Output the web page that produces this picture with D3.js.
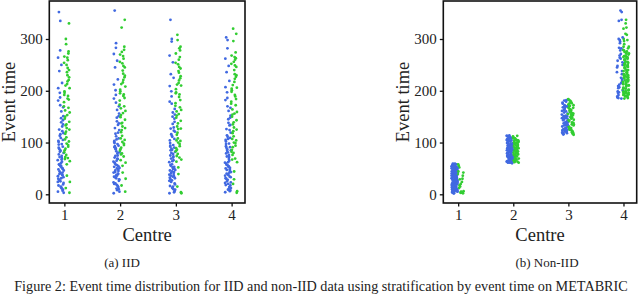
<!DOCTYPE html>
<html lang="en">
<head>
  <meta charset="utf-8">
  <title>Event time distribution</title>
  <script src="https://cdn.jsdelivr.net/npm/d3@7"></script>
  <style>
    body { margin: 0; background: #fff; }
    text { font-family: "Liberation Serif", "DejaVu Serif", serif; fill: #222; }
  </style>
</head>
<body>
<div id="chart"></div>
<script>
// centres (IID split, stratified by event time)
var centres = [1, 2, 3, 4];
var yTicks = [0, 100, 200, 300];

// event times, blue = event observed, green = censored
var eventC1 = [12, 88, 143, 41, 205, 63, 27, 118, 55, 96, 7, 172, 35, 74, 238, 19, 109, 48, 131, 82,
  3, 160, 58, 92, 25, 264, 70, 44, 151, 15, 101, 37, 187, 66, 52, 125, 9, 84, 30, 215,
  113, 22, 139, 77, 50, 335, 5, 97, 39, 168, 60, 17, 122, 86, 46, 250, 28, 105, 54, 181,
  11, 72, 33, 147, 90, 42, 278, 24, 67, 57, 135, 14, 103, 38, 196, 80, 31, 352, 49, 116];
var eventC2 = [8, 93, 151, 37, 212, 68, 21, 124, 50, 99, 14, 177, 42, 79, 245, 26, 106, 53, 134, 87,
  5, 163, 61, 94, 31, 271, 75, 46, 156, 18, 103, 39, 192, 63, 56, 128, 10, 83, 34, 222,
  117, 28, 141, 71, 45, 292, 2, 97, 43, 170, 65, 20, 119, 89, 51, 258, 33, 108, 57, 185,
  16, 74, 29, 148, 91, 48, 283, 23, 69, 59, 137, 11, 101, 40, 201, 81, 36, 355, 54, 112];
var eventC3 = [15, 85, 146, 44, 209, 66, 24, 121, 52, 94, 4, 175, 38, 71, 232, 21, 111, 46, 129, 80,
  9, 158, 57, 90, 27, 268, 73, 41, 154, 13, 99, 35, 189, 62, 49, 127, 6, 86, 32, 225,
  116, 19, 136, 75, 53, 300, 2, 95, 36, 165, 64, 16, 123, 88, 47, 255, 29, 107, 58, 179,
  10, 69, 31, 150, 92, 43, 295, 26, 78, 55, 140, 12, 104, 39, 199, 82, 34, 337, 50, 113];
var eventC4 = [10, 90, 148, 39, 207, 65, 25, 119, 53, 97, 6, 170, 36, 76, 236, 17, 107, 50, 133, 84,
  12, 161, 59, 91, 28, 262, 72, 47, 152, 20, 102, 34, 186, 61, 54, 126, 8, 81, 31, 219,
  114, 23, 138, 79, 45, 298, 4, 98, 40, 167, 62, 18, 124, 87, 43, 248, 30, 109, 56, 182,
  14, 73, 33, 145, 93, 48, 282, 22, 68, 57, 134, 9, 105, 42, 197, 85, 37, 303, 51, 111];

var censC1 = [185, 72, 240, 128, 266, 95, 12, 205, 153, 68, 221, 110, 178, 259, 88, 140, 36, 196, 272, 121,
  64, 230, 162, 102, 250, 81, 190, 133, 3, 213, 146, 276, 76, 170, 244, 117, 226, 58, 199, 92,
  300, 158, 264, 106, 183, 135, 254, 70, 210, 125, 236, 85, 167, 290, 24, 218, 150, 330, 98, 192];
var censC2 = [190, 77, 245, 131, 270, 98, 17, 208, 157, 66, 226, 113, 181, 262, 90, 144, 42, 199, 279, 124,
  61, 233, 166, 105, 253, 84, 193, 137, 5, 216, 149, 285, 79, 173, 248, 120, 229, 55, 202, 95,
  322, 161, 267, 108, 186, 138, 256, 73, 213, 128, 239, 87, 170, 275, 30, 221, 153, 337, 101, 195];
var censC3 = [188, 74, 243, 126, 272, 97, 15, 210, 155, 63, 224, 108, 176, 282, 86, 142, 39, 197, 265, 119,
  67, 235, 160, 103, 251, 83, 193, 131, 4, 215, 148, 278, 78, 171, 246, 115, 228, 52, 203, 93,
  308, 163, 260, 104, 182, 137, 254, 71, 212, 127, 238, 89, 168, 298, 2, 220, 152, 285, 100, 195];
var censC4 = [192, 76, 246, 129, 268, 99, 20, 206, 156, 67, 227, 112, 179, 260, 91, 143, 44, 201, 274, 122,
  62, 232, 164, 104, 256, 82, 189, 135, 3, 217, 150, 263, 80, 175, 249, 118, 230, 29, 204, 94,
  320, 159, 265, 107, 184, 139, 252, 69, 211, 125, 240, 86, 172, 296, 6, 223, 154, 310, 100, 198];

// non-IID split: event-time cut points between centres
var nonIidBreaks = [60, 115, 185];

var eventSets = [eventC1, eventC2, eventC3, eventC4];
var censSets = [censC1, censC2, censC3, censC4];

var color = { event: "#4169e1", cens: "#32cd32" };
var dodge = { event: -0.065, cens: 0.045 };
var jitterHalf = 0.055;

// flat list of points for IID panel
var iidPoints = [];
centres.forEach(function (c, i) {
  eventSets[i].forEach(function (t, k) { iidPoints.push({ centre: c, type: "event", t: t, k: k }); });
  censSets[i].forEach(function (t, k) { iidPoints.push({ centre: c, type: "cens", t: t, k: k }); });
});

// same patients, regrouped by event time for non-IID panel
var counters = {};
var nonIidPoints = iidPoints.map(function (d) {
  var c = centres[d3.bisectRight(nonIidBreaks, d.t)];
  var key = c + d.type;
  counters[key] = (counters[key] || 0) + 1;
  return { centre: c, type: d.type, t: d.t, k: counters[key] };
});

var svg = d3.select("#chart").append("svg")
  .attr("width", 640)
  .attr("height", 295);

function jitter(k) {
  return (((k + 1) * 0.6180339887) % 1 - 0.5) * 2 * jitterHalf;
}

function panel(points, left, right, labelX, captionX, caption) {
  var x = d3.scaleLinear().domain([0.73, 4.24]).range([left, right]);
  var y = d3.scaleLinear().domain([-16.8, 373.4]).range([203, 1]);
  var g = svg.append("g");

  g.append("g")
    .selectAll("circle")
    .data(points)
    .enter().append("circle")
    .attr("cx", function (d) { return x(d.centre + dodge[d.type] + jitter(d.k)); })
    .attr("cy", function (d) { return y(d.t); })
    .attr("r", 1.4)
    .attr("fill", function (d) { return color[d.type]; });

  var yAxis = g.append("g")
    .attr("transform", "translate(" + left + ",0)")
    .call(d3.axisLeft(y).tickValues(yTicks).tickSize(3.5).tickPadding(3));
  var xAxis = g.append("g")
    .attr("transform", "translate(0,203)")
    .call(d3.axisBottom(x).tickValues(centres).tickSize(3.5).tickPadding(3).tickFormat(d3.format("d")));
  [xAxis, yAxis].forEach(function (a) {
    a.select(".domain").remove();
    a.selectAll("line").attr("stroke", "#111").attr("stroke-width", 1.3);
    a.selectAll("text").attr("font-size", 15).attr("font-family", "Liberation Serif").attr("fill", "#333");
  });

  g.append("rect")
    .attr("x", left).attr("y", 1)
    .attr("width", right - left).attr("height", 202)
    .attr("fill", "none")
    .attr("stroke", "#111")
    .attr("stroke-width", 1.6);

  g.append("text")
    .attr("transform", "translate(" + labelX + ",102) rotate(-90)")
    .attr("text-anchor", "middle")
    .attr("font-size", 18.5)
    .text("Event time");

  g.append("text")
    .attr("x", (left + right) / 2)
    .attr("y", 240.5)
    .attr("text-anchor", "middle")
    .attr("font-size", 18.5)
    .text("Centre");

  g.append("text")
    .attr("x", captionX)
    .attr("y", 266.5)
    .attr("text-anchor", "middle")
    .attr("font-size", 13)
    .text(caption);
}

panel(iidPoints, 49.3, 245, 15, 122, "(a) IID");
panel(nonIidPoints, 443.3, 636.7, 408.5, 547, "(b) Non-IID");

svg.append("text")
  .attr("x", 321)
  .attr("y", 290.5)
  .attr("text-anchor", "middle")
  .attr("font-size", 14.2)
  .text("Figure 2: Event time distribution for IID and non-IID data using stratification by event time on METABRIC");
</script>
</body>
</html>
